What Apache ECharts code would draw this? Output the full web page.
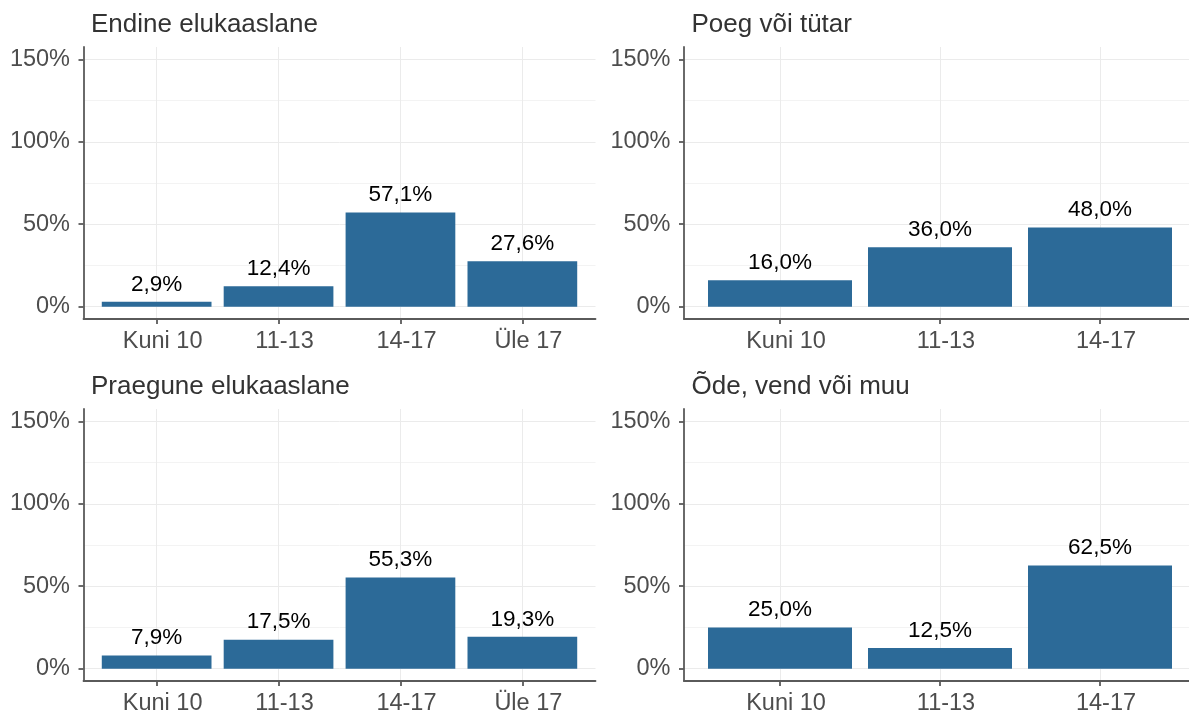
<!DOCTYPE html>
<html>
<head>
<meta charset="utf-8">
<script src="https://cdn.jsdelivr.net/npm/echarts@6/dist/echarts.min.js"></script>
<style>
  html, body { margin: 0; padding: 0; background: #fff; }
  #chart { width: 1189px; height: 715px; }
</style>
</head>
<body>
<div id="chart"></div>
<script>
// categories
const ageGroups4 = ['Kuni 10', '11-13', '14-17', 'Üle 17'];
const ageGroups3 = ['Kuni 10', '11-13', '14-17'];

// values, percent
const endineValues = [2.9, 12.4, 57.1, 27.6];
const poegValues = [16.0, 36.0, 48.0];
const praeguneValues = [7.9, 17.5, 55.3, 19.3];
const odeValues = [25.0, 12.5, 62.5];

// y scale
const yMax = 150;
const yStep = 50;
const yExpand = 7.5;

const font = "'Liberation Sans', Arial, sans-serif";
const axisColor = '#5a5a5a';
const barColor = '#2c6a98';

const panels = [
    { title: 'Endine elukaaslane', cats: ageGroups4, vals: endineValues, left: 83.5, top: 47 },
    { title: 'Poeg või tütar', cats: ageGroups3, vals: poegValues, left: 684, top: 47 },
    { title: 'Praegune elukaaslane', cats: ageGroups4, vals: praeguneValues, left: 83.5, top: 409 },
    { title: 'Õde, vend või muu', cats: ageGroups3, vals: odeValues, left: 684, top: 409 }
];
const W = 512, H = 272;

let option = { animation: false, title: [], grid: [], xAxis: [], yAxis: [], series: [] };

panels.forEach((p, i) => {
    const n = p.cats.length;
    // discrete scale: 0.6 band of padding on each side
    const band = W / (n + 0.2);
    const pad = H * yExpand / (yMax + 2 * yExpand);
    const lineStyle = { color: axisColor, width: 1.8 };

    option.title.push({
        text: p.title, left: p.left + 7.5, top: p.top - 35.5, padding: 0,
        textStyle: { fontFamily: font, fontSize: 26, fontWeight: 'normal', color: '#333333' }
    });

    // grid for the y scale (full width, inset vertically)
    option.grid.push({
        left: p.left, top: p.top + pad, width: W, height: H - 2 * pad,
        containLabel: false, outerBoundsMode: 'none'
    });
    // grid for the bars (inset horizontally, full height)
    option.grid.push({
        left: p.left + 0.6 * band, top: p.top, width: (n - 1) * band, height: H,
        containLabel: false, outerBoundsMode: 'none'
    });

    option.xAxis.push({
        gridIndex: 2 * i, type: 'value', min: 0, max: 1, offset: pad,
        axisLine: { show: true, onZero: false, lineStyle: lineStyle },
        axisTick: { show: false }, axisLabel: { show: false }, splitLine: { show: false }
    });
    option.yAxis.push({
        gridIndex: 2 * i, type: 'value', min: 0, max: yMax, interval: yStep,
        axisLine: { show: false },
        axisTick: { show: true, length: 5, lineStyle: lineStyle },
        axisLabel: { formatter: '{value}%', margin: 13.5, fontFamily: font, fontSize: 23.5, color: '#4d4d4d' },
        splitLine: { show: true, lineStyle: { color: '#ebebeb', width: 1 } },
        minorTick: { show: false, splitNumber: 2 },
        minorSplitLine: { show: true, lineStyle: { color: '#f3f3f3', width: 1 } }
    });

    option.xAxis.push({
        gridIndex: 2 * i + 1, type: 'value', min: 1, max: n, interval: 1,
        axisLine: { show: false, onZero: false },
        axisTick: { show: true, length: 5, lineStyle: lineStyle },
        axisLabel: {
            formatter: v => p.cats[Math.round(v) - 1] || '',
            margin: 11, padding: [0, 0, 0, 12],
            fontFamily: font, fontSize: 23.5, color: '#4d4d4d'
        },
        splitLine: { show: true, lineStyle: { color: '#ebebeb', width: 1 } }
    });
    option.yAxis.push({
        gridIndex: 2 * i + 1, type: 'value', min: -yExpand, max: yMax + yExpand, offset: 0.6 * band,
        axisLine: { show: true, onZero: false, lineStyle: lineStyle },
        axisTick: { show: false }, axisLabel: { show: false }, splitLine: { show: false }
    });

    option.series.push({
        type: 'bar',
        xAxisIndex: 2 * i + 1, yAxisIndex: 2 * i + 1,
        data: p.vals.map((v, k) => [k + 1, v]),
        barWidth: 0.9 * band,
        clip: false,
        itemStyle: { color: barColor },
        label: {
            show: true, position: 'top', distance: 6,
            fontFamily: font, fontSize: 22.5, color: '#000',
            formatter: params => params.value[1].toFixed(1).replace('.', ',') + '%'
        }
    });
});

let myChart = echarts.init(document.getElementById('chart'));
myChart.setOption(option);
</script>
</body>
</html>
